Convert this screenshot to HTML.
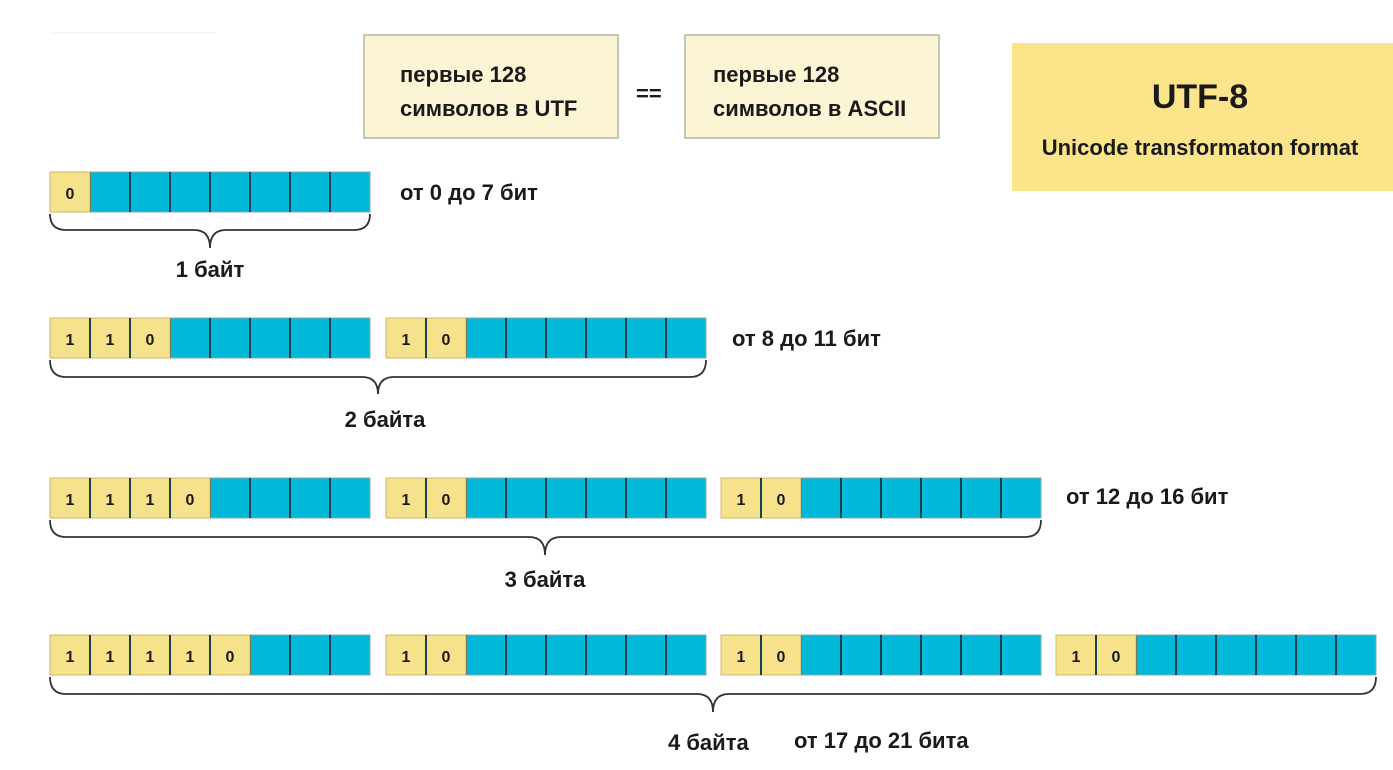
<!DOCTYPE html>
<html><head><meta charset="utf-8"><style>
html,body{margin:0;padding:0;background:#fff;}
svg{display:block;}
text{font-family:"Liberation Sans Narrow","Liberation Sans",sans-serif;font-weight:bold;fill:#1a1a1a;}
</style></head><body>
<svg width="1393" height="770" viewBox="0 0 1393 770" xmlns="http://www.w3.org/2000/svg">
<defs>
<g id="byte">
<rect x="0" y="0" width="320" height="40" fill="#00b8d8" stroke="#8aa" stroke-width="1"/>
<path d="M40 0V40M80 0V40M120 0V40M160 0V40M200 0V40M240 0V40M280 0V40" stroke="#1d4050" stroke-width="2"/>
</g>
</defs>
<line x1="50" y1="33" x2="216" y2="33" stroke="#eee" stroke-width="1"/>
<!-- top boxes -->
<rect x="364" y="35" width="254" height="103" fill="#fbf4d5" stroke="#b8b4a0" stroke-width="1.5"/>
<text x="400" y="82" font-size="22">первые 128</text>
<text x="400" y="116" font-size="22">символов в UTF</text>
<text x="636" y="101" font-size="22">==</text>
<rect x="685" y="35" width="254" height="103" fill="#fbf4d5" stroke="#b8b4a0" stroke-width="1.5"/>
<text x="713" y="82" font-size="22">первые 128</text>
<text x="713" y="116" font-size="22">символов в ASCII</text>
<rect x="1012" y="43" width="381" height="148" fill="#fbe48a"/>
<text x="1200" y="108" font-size="34" text-anchor="middle" font-weight="normal">UTF-8</text>
<text x="1200" y="155" font-size="22" text-anchor="middle">Unicode transformaton format</text>

<!-- row1 -->
<use href="#byte" x="50" y="172"/>
<rect x="50" y="172" width="40" height="40" fill="#f7e28c" stroke="#c8b870"/>
<text x="70" y="199" font-size="16" text-anchor="middle">0</text>
<text x="400" y="200" font-size="22">от 0 до 7 бит</text>
<path d="M50 214Q50 230 66 230L194 230Q210 230 210 248Q210 230 226 230L354 230Q370 230 370 214" fill="none" stroke="#333" stroke-width="1.8"/>
<text x="210" y="277" font-size="22" text-anchor="middle">1 байт</text>

<!-- row2 -->
<use href="#byte" x="50" y="318"/>
<rect x="50" y="318" width="120" height="40" fill="#f7e28c" stroke="#c8b870"/>
<path d="M90 318V358M130 318V358" stroke="#1d4050" stroke-width="2"/>
<text x="70" y="345" font-size="16" text-anchor="middle">1</text><text x="110" y="345" font-size="16" text-anchor="middle">1</text><text x="150" y="345" font-size="16" text-anchor="middle">0</text>
<use href="#byte" x="386" y="318"/>
<rect x="386" y="318" width="80" height="40" fill="#f7e28c" stroke="#c8b870"/>
<path d="M426 318V358" stroke="#1d4050" stroke-width="2"/>
<text x="406" y="345" font-size="16" text-anchor="middle">1</text><text x="446" y="345" font-size="16" text-anchor="middle">0</text>
<text x="732" y="346" font-size="22">от 8 до 11 бит</text>
<path d="M50 360Q50 377 66 377L362 377Q378 377 378 394Q378 377 394 377L690 377Q706 377 706 360" fill="none" stroke="#333" stroke-width="1.8"/>
<text x="385" y="427" font-size="22" text-anchor="middle">2 байта</text>

<!-- row3 -->
<use href="#byte" x="50" y="478"/>
<rect x="50" y="478" width="160" height="40" fill="#f7e28c" stroke="#c8b870"/>
<path d="M90 478V518M130 478V518M170 478V518" stroke="#1d4050" stroke-width="2"/>
<text x="70" y="505" font-size="16" text-anchor="middle">1</text><text x="110" y="505" font-size="16" text-anchor="middle">1</text><text x="150" y="505" font-size="16" text-anchor="middle">1</text><text x="190" y="505" font-size="16" text-anchor="middle">0</text>
<use href="#byte" x="386" y="478"/>
<rect x="386" y="478" width="80" height="40" fill="#f7e28c" stroke="#c8b870"/>
<path d="M426 478V518" stroke="#1d4050" stroke-width="2"/>
<text x="406" y="505" font-size="16" text-anchor="middle">1</text><text x="446" y="505" font-size="16" text-anchor="middle">0</text>
<use href="#byte" x="721" y="478"/>
<rect x="721" y="478" width="80" height="40" fill="#f7e28c" stroke="#c8b870"/>
<path d="M761 478V518" stroke="#1d4050" stroke-width="2"/>
<text x="741" y="505" font-size="16" text-anchor="middle">1</text><text x="781" y="505" font-size="16" text-anchor="middle">0</text>
<text x="1066" y="504" font-size="22">от 12 до 16 бит</text>
<path d="M50 520Q50 537 66 537L529 537Q545 537 545 555Q545 537 561 537L1025 537Q1041 537 1041 520" fill="none" stroke="#333" stroke-width="1.8"/>
<text x="545" y="587" font-size="22" text-anchor="middle">3 байта</text>

<!-- row4 -->
<use href="#byte" x="50" y="635"/>
<rect x="50" y="635" width="200" height="40" fill="#f7e28c" stroke="#c8b870"/>
<path d="M90 635V675M130 635V675M170 635V675M210 635V675" stroke="#1d4050" stroke-width="2"/>
<text x="70" y="662" font-size="16" text-anchor="middle">1</text><text x="110" y="662" font-size="16" text-anchor="middle">1</text><text x="150" y="662" font-size="16" text-anchor="middle">1</text><text x="190" y="662" font-size="16" text-anchor="middle">1</text><text x="230" y="662" font-size="16" text-anchor="middle">0</text>
<use href="#byte" x="386" y="635"/>
<rect x="386" y="635" width="80" height="40" fill="#f7e28c" stroke="#c8b870"/>
<path d="M426 635V675" stroke="#1d4050" stroke-width="2"/>
<text x="406" y="662" font-size="16" text-anchor="middle">1</text><text x="446" y="662" font-size="16" text-anchor="middle">0</text>
<use href="#byte" x="721" y="635"/>
<rect x="721" y="635" width="80" height="40" fill="#f7e28c" stroke="#c8b870"/>
<path d="M761 635V675" stroke="#1d4050" stroke-width="2"/>
<text x="741" y="662" font-size="16" text-anchor="middle">1</text><text x="781" y="662" font-size="16" text-anchor="middle">0</text>
<use href="#byte" x="1056" y="635"/>
<rect x="1056" y="635" width="80" height="40" fill="#f7e28c" stroke="#c8b870"/>
<path d="M1096 635V675" stroke="#1d4050" stroke-width="2"/>
<text x="1076" y="662" font-size="16" text-anchor="middle">1</text><text x="1116" y="662" font-size="16" text-anchor="middle">0</text>
<path d="M50 677Q50 694 66 694L697 694Q713 694 713 712Q713 694 729 694L1360 694Q1376 694 1376 677" fill="none" stroke="#333" stroke-width="1.8"/>
<text x="668" y="750" font-size="22">4 байта</text>
<text x="794" y="748" font-size="22">от 17 до 21 бита</text>
</svg>
</body></html>
